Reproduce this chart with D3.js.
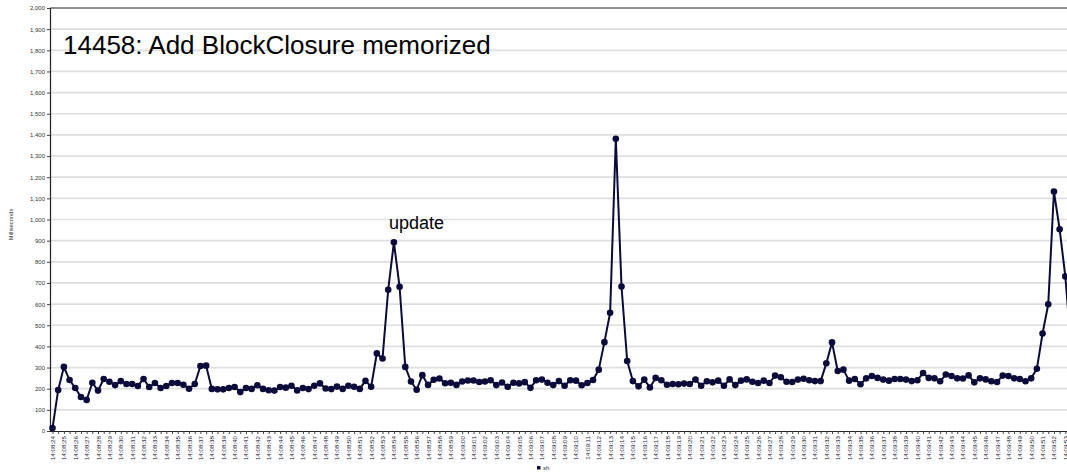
<!DOCTYPE html>
<html><head><meta charset="utf-8">
<script src="https://cdn.jsdelivr.net/npm/d3@7"></script>
<style>html,body{margin:0;padding:0;background:#fff;overflow:hidden}svg{display:block}</style>
</head><body>
<script>
const title = "14458: Add BlockClosure memorized";
const annotationText = "update";
const annotationIndex = 60;
const seriesName = "sh";
const yAxisTitle = "Milliseconds";
const yTicks = [0,100,200,300,400,500,600,700,800,900,1000,1100,1200,1300,1400,1500,1600,1700,1800,1900,2000];
// one label per second; two samples per label
const timeLabels = [];
for (let m = 8; m <= 9; m++) {
  const start = m === 8 ? 24 : 0, end = m === 8 ? 59 : 53;
  for (let s = start; s <= end; s++) timeLabels.push("14:0" + m + ":" + String(s).padStart(2, "0"));
}
const values = [
  14,194,303,241,203,161,147,228,191,246,
  233,217,236,222,222,213,246,208,227,203,
  213,227,227,219,200,222,307,309,199,197,
  197,203,208,184,203,199,216,199,193,191,
  208,205,214,192,203,198,214,225,201,198,
  210,199,214,209,199,237,209,367,343,668,
  892,682,303,234,195,264,218,242,248,226,
  228,218,234,239,239,232,234,240,217,229,
  209,228,225,231,204,240,243,228,217,236,
  214,240,238,216,227,241,290,420,559,1382,
  683,331,236,211,243,206,251,240,219,222,
  221,224,222,243,214,235,230,238,214,244,
  217,238,244,233,227,238,227,262,254,233,
  232,243,247,240,236,236,320,419,284,290,
  238,246,221,249,260,251,243,238,246,246,
  243,236,240,274,251,249,235,267,260,249,
  248,263,230,249,244,235,232,262,260,249,
  246,235,249,294,461,599,1132,954,731,398,
  210
];

const W = 1067, H = 476;
const svg = d3.select("body").append("svg").attr("width", W).attr("height", H)
  .style("font-family", "Arial, 'Liberation Sans', Helvetica, sans-serif");

const plotLeft = 50, plotTop = 8, plotBottom = 431;
const step = 5.69;
const idx = values.map((d, i) => i);
const x = d3.scalePoint().domain(idx).range([plotLeft + 2.5, plotLeft + 2.5 + step * (values.length - 1)]);
const y = d3.scaleLinear().domain([0, 2000]).range([plotBottom, plotTop]);
const plotRight = plotLeft + 2.5 + step * (values.length - 1) + 3;

// gridlines
svg.append("g").selectAll("line").data(yTicks.filter(d => d > 0 && d < 2000)).join("line")
  .attr("x1", plotLeft).attr("x2", plotRight).attr("y1", d => y(d)).attr("y2", d => y(d))
  .attr("stroke", "#dedede").attr("stroke-width", 1.7);

// frame top
svg.append("line").attr("x1", plotLeft).attr("x2", plotRight).attr("y1", plotTop).attr("y2", plotTop)
  .attr("stroke", "#222").attr("stroke-width", 1);

// y axis
const yAxis = d3.axisLeft(y).tickValues(yTicks).tickSize(3).tickPadding(2).tickFormat(d3.format(","));
const gy = svg.append("g").attr("transform", `translate(${plotLeft},0)`).call(yAxis);
gy.select(".domain").attr("stroke", "#222").attr("stroke-width", 1.2);
gy.selectAll(".tick line").attr("stroke", "#444");
gy.selectAll("text").attr("font-size", 6).attr("fill", "#333");

// x axis
const xAxis = d3.axisBottom(x).tickSize(3).tickFormat(d => d % 2 === 0 ? (timeLabels[d / 2] || "") : "");
const gx = svg.append("g").attr("transform", `translate(0,${plotBottom})`).call(xAxis);
gx.select(".domain").attr("stroke", "#222").attr("stroke-width", 1.2).attr("d", `M${plotLeft},0.5H${plotRight}`);
gx.selectAll(".tick line").attr("stroke", "#444");
gx.selectAll("text").attr("font-size", 6.2).attr("fill", "#223")
  .attr("transform", "rotate(-90)").attr("text-anchor", "end")
  .attr("x", -5).attr("y", 0).attr("dy", "0.32em");

// y axis title
svg.append("text").attr("transform", `translate(13,${(plotTop + plotBottom) / 2 + 5}) rotate(-90)`)
  .attr("text-anchor", "middle").attr("font-size", 5.8).attr("fill", "#333").text(yAxisTitle);

// line
const color = "#0b0b3b";
svg.append("path").datum(values)
  .attr("fill", "none").attr("stroke", color).attr("stroke-width", 2)
  .attr("stroke-linejoin", "round")
  .attr("d", d3.line().x((d, i) => x(i)).y(d => y(d)));
svg.append("g").selectAll("circle").data(values).join("circle")
  .attr("cx", (d, i) => x(i)).attr("cy", d => y(d)).attr("r", 3.3).attr("fill", color);

// title
svg.append("text").attr("x", 63).attr("y", 54).attr("font-size", 26).attr("fill", "#000").text(title);
// annotation
svg.append("text").attr("x", x(annotationIndex) - 5).attr("y", 229).attr("font-size", 18).attr("fill", "#000").text(annotationText);

// legend
const lg = svg.append("g").attr("transform", "translate(537,469)");
lg.append("rect").attr("x", 0).attr("y", -3).attr("width", 3.5).attr("height", 3.5).attr("fill", color);
lg.append("text").attr("x", 6).attr("y", 1).attr("font-size", 6).attr("fill", "#333").text(seriesName);
</script>
</body></html>
